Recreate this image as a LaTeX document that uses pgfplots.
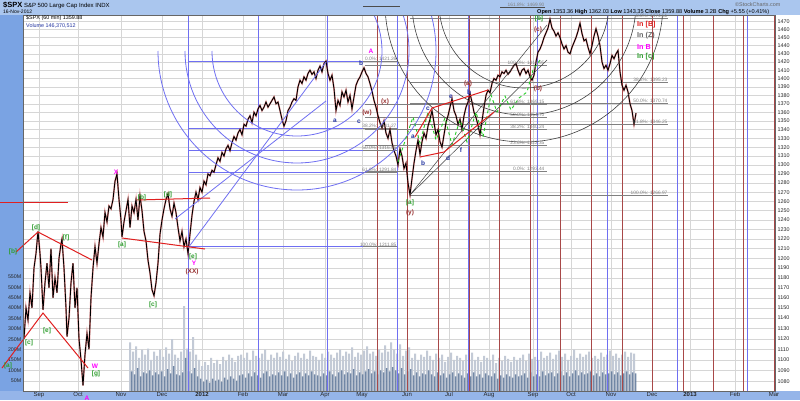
\documentclass[border=0pt]{standalone}
\usepackage{pgfplots}
\pgfplotsset{compat=1.18}
\usepackage{pgfplotstable}
\usepackage{fontspec}
\setmainfont{Liberation Sans}

\definecolor{lblue}{HTML}{6F6FF2}
\definecolor{rline}{HTML}{A84848}
\definecolor{eg}{HTML}{2E9E2E}
\definecolor{brn}{HTML}{993333}
\definecolor{nv}{HTML}{2233A0}
\definecolor{mg}{HTML}{FF00FF}
\definecolor{fibg}{HTML}{808080}
\definecolor{marg}{HTML}{7AA3E3}
\definecolor{head}{HTML}{AAC6EE}
\definecolor{vlight}{HTML}{C3CAD6}
\definecolor{vdark}{HTML}{5C7598}
\definecolor{chred}{HTML}{E02020}
\definecolor{zig}{HTML}{22CC22}

\newcommand\fs[1]{\fontsize{#1}{#1}\selectfont}
% elliott wave label: [size]{colour}{x}{y}{text}, x/y in chart pixels
\newcommand\lb[5][6.5]{\node[text=#2,font=\bfseries\fs{#1},inner sep=0pt] at (axis cs:#3,#4) {#5};}
% fib level label, right edge x, line y
\newcommand\fl[3]{\node[text=fibg,font=\fs{4.8},anchor=south east,inner sep=0.4pt] at (axis cs:#1,#2) {#3};}

\pgfplotsset{base/.style={at={(23pt,9pt)}, anchor=south west, scale only axis,
  width=752pt, height=376pt, xmin=23, xmax=775}}

% $SPX 60 min closes, x = chart pixel column
\pgfplotstableread[row sep=\\]{px p\\
24 1120\\26 1150\\28 1138\\30 1165\\32 1150\\34 1190\\36 1205\\38 1228\\40 1205\\41 1190\\
43 1148\\45 1175\\47 1195\\49 1170\\51 1210\\53 1160\\55 1180\\57 1165\\59 1200\\61 1215\\
62 1220\\64 1190\\66 1150\\67 1122\\69 1140\\71 1175\\73 1195\\75 1150\\77 1170\\79 1120\\
81 1100\\83 1076\\85 1105\\87 1125\\89 1110\\91 1160\\93 1190\\95 1212\\97 1195\\99 1215\\
101 1232\\103 1222\\105 1248\\107 1238\\109 1255\\111 1252\\113 1262\\115 1282\\117 1290\\119 1262\\
121 1240\\122 1222\\124 1238\\126 1250\\128 1262\\130 1232\\132 1255\\134 1248\\136 1262\\138 1240\\
140 1266\\142 1250\\144 1228\\146 1218\\148 1198\\150 1185\\152 1168\\154 1162\\156 1175\\158 1195\\
160 1225\\162 1240\\164 1252\\166 1262\\168 1268\\170 1252\\172 1244\\174 1258\\176 1248\\178 1232\\
180 1218\\182 1228\\184 1212\\186 1220\\188 1205\\190 1225\\192 1245\\194 1260\\196 1270\\198 1262\\
200 1275\\202 1270\\204 1282\\206 1278\\208 1290\\210 1288\\212 1294\\214 1292\\216 1300\\218 1308\\
220 1304\\222 1314\\224 1310\\226 1318\\228 1322\\230 1316\\232 1325\\234 1332\\236 1328\\238 1336\\
240 1340\\242 1334\\244 1346\\246 1344\\248 1352\\250 1356\\252 1348\\254 1360\\256 1356\\258 1364\\
260 1368\\262 1362\\264 1366\\266 1372\\268 1366\\270 1370\\272 1374\\274 1378\\276 1370\\278 1372\\
280 1362\\282 1352\\284 1344\\286 1350\\288 1362\\290 1366\\292 1372\\294 1376\\296 1374\\298 1390\\
300 1398\\302 1394\\304 1402\\306 1398\\308 1406\\310 1410\\312 1405\\314 1408\\316 1400\\318 1410\\
320 1415\\322 1408\\324 1418\\326 1421\\328 1406\\330 1398\\332 1404\\334 1388\\336 1362\\338 1374\\
340 1368\\342 1384\\344 1378\\346 1386\\348 1372\\350 1380\\352 1364\\354 1378\\356 1392\\358 1398\\
360 1402\\362 1408\\364 1413\\366 1406\\368 1402\\370 1394\\372 1385\\374 1374\\376 1366\\378 1356\\
380 1348\\382 1342\\384 1350\\386 1336\\388 1330\\390 1340\\392 1325\\394 1316\\396 1310\\398 1300\\
400 1318\\402 1310\\404 1296\\406 1302\\408 1280\\410 1267\\412 1285\\414 1302\\416 1316\\418 1328\\
420 1312\\422 1326\\424 1336\\426 1330\\428 1344\\430 1352\\432 1362\\434 1348\\436 1334\\438 1340\\
440 1326\\442 1320\\444 1334\\446 1348\\448 1356\\450 1366\\452 1376\\454 1362\\456 1356\\458 1346\\
460 1352\\462 1340\\464 1356\\466 1366\\468 1372\\470 1382\\472 1372\\474 1360\\476 1354\\478 1345\\
480 1334\\482 1350\\484 1366\\486 1380\\488 1386\\490 1383\\492 1394\\494 1400\\496 1398\\498 1404\\
500 1402\\502 1408\\504 1406\\506 1410\\508 1405\\510 1408\\512 1412\\514 1416\\516 1418\\518 1410\\
520 1404\\522 1410\\524 1412\\526 1406\\528 1410\\530 1402\\532 1398\\534 1404\\536 1420\\538 1432\\
540 1436\\542 1442\\544 1450\\546 1456\\548 1462\\550 1473\\552 1462\\554 1458\\556 1452\\558 1456\\
560 1450\\562 1442\\564 1436\\566 1440\\568 1432\\570 1430\\572 1438\\574 1444\\576 1450\\578 1458\\
580 1468\\582 1455\\584 1446\\586 1448\\588 1438\\590 1430\\592 1440\\594 1452\\596 1461\\598 1452\\
600 1440\\602 1420\\604 1412\\606 1416\\608 1410\\610 1418\\612 1428\\614 1424\\616 1430\\618 1434\\
620 1408\\622 1392\\624 1386\\626 1392\\628 1384\\630 1370\\632 1362\\634 1346\\636 1359\\
}\spx

% volume (millions), one pair per 3 px from x=130
\pgfplotstableread[row sep=\\]{vl vd\\
235 95\\190 80\\215 110\\160 70\\200 90\\175 85\\205 100\\150 75\\190 90\\170 80\\
200 95\\165 70\\210 105\\180 85\\250 120\\175 80\\160 75\\190 90\\410 160\\205 95\\
190 85\\260 110\\175 70\\150 60\\120 45\\140 55\\125 40\\160 60\\135 50\\150 55\\
130 45\\165 65\\145 55\\175 70\\160 60\\140 50\\170 75\\175 80\\160 65\\185 85\\
150 70\\195 90\\170 75\\160 65\\180 85\\200 95\\150 70\\175 80\\160 75\\185 90\\
165 75\\190 95\\155 70\\175 85\\145 65\\170 80\\185 90\\160 70\\180 85\\155 75\\
195 95\\170 80\\165 75\\150 70\\180 85\\160 75\\190 95\\175 80\\160 70\\185 90\\
200 100\\170 80\\190 90\\180 85\\210 105\\165 75\\185 90\\175 80\\195 95\\215 105\\
180 85\\190 95\\170 80\\200 100\\185 90\\220 110\\190 95\\235 115\\200 100\\180 85\\
225 110\\170 80\\195 95\\210 105\\160 75\\180 90\\150 70\\175 85\\165 80\\195 100\\
170 80\\150 70\\180 90\\160 75\\175 85\\140 65\\165 80\\185 90\\150 70\\170 85\\
160 75\\145 65\\175 85\\155 70\\185 90\\150 70\\165 80\\140 65\\170 85\\160 75\\
150 70\\175 85\\135 60\\160 75\\145 65\\170 80\\155 70\\140 65\\165 80\\150 70\\
160 75\\175 85\\145 65\\180 90\\155 70\\165 80\\150 70\\190 95\\160 75\\170 85\\
185 90\\155 70\\175 85\\195 95\\165 75\\180 90\\150 70\\170 85\\200 100\\160 75\\
180 90\\165 80\\175 85\\190 95\\160 75\\170 85\\155 70\\185 90\\165 80\\175 85\\
195 95\\170 80\\180 90\\160 75\\175 85\\190 95\\165 80\\185 90\\180 85\\
}\vol

\begin{document}
\begin{tikzpicture}[x=1pt,y=1pt]
\useasboundingbox (0,0) rectangle (800,400);
\fill[marg] (0,0) rectangle (23,385);
\fill[marg!80!white] (0,0) rectangle (800,9);
\fill[head] (0,385) rectangle (800,400);

% grid, month labels, price labels
\begin{axis}[base, ymode=log, ymin=1071, ymax=1478.5,
  axis background/.style={fill=white},
  xtick={39,78,121,162,202,243,283,325,362,407,449,489,533,571,611,652,690,735,774},
  xticklabels={Sep,Oct,Nov,Dec,\textbf{2012},Feb,Mar,Apr,May,Jun,Jul,Aug,Sep,Oct,Nov,Dec,\textbf{2013},Feb,Mar},
  minor x tick num=3, minor y tick num=0,
  ytick={1080,1090,...,1470}, yticklabel pos=right,
  log ticks with fixed point,
  /pgf/number format/fixed, /pgf/number format/precision=0,
  /pgf/number format/1000 sep={}, /pgf/number format/assume math mode=true,
  xmajorgrids, xminorgrids, ymajorgrids,
  major grid style={draw=gray!32, line width=0.4pt},
  minor grid style={draw=gray!16, line width=0.4pt},
  tick style={draw=none}, axis line style={draw=none},
  xticklabel style={font=\fs{6}, inner sep=0pt, yshift=-1.5pt, text=black!85},
  yticklabel style={font=\fs{5.4}, inner sep=0pt, anchor=west, xshift=2.5pt, text=black!85},
]
\end{axis}

% volume
\begin{axis}[base, ymin=0, ymax=1814, hide x axis, axis y line*=left,
  y axis line style={draw=none}, tick style={draw=none},
  ytick={50,100,...,550}, yticklabel={\pgfmathprintnumber{\tick}M},
  /pgf/number format/assume math mode=true,
  yticklabel style={font=\fs{5.3}, inner sep=0pt, anchor=east, xshift=-1.5pt, text=black!85},
]
\addplot[ybar, bar width=2pt, bar shift=0pt, fill=vlight, draw=none]
  table[x expr=\coordindex*3+130, y=vl]{\vol};
\addplot[ybar, bar width=1.5pt, bar shift=0pt, fill=vdark, draw=none, opacity=0.85]
  table[x expr=\coordindex*3+131.5, y=vd]{\vol};
\end{axis}

% price, cycle lines, fibonacci levels
\begin{axis}[base, ymode=log, ymin=1071, ymax=1478.5, hide axis]
\pgfplotsinvokeforeach{188,258,327,397,468,537,607,677,747}{
  \addplot[lblue, line width=0.8pt] coordinates {(#1,1071) (#1,1478.5)};}
\pgfplotsinvokeforeach{377,407,438,469,499,530,560,591,622,652,683,713,743,774}{
  \addplot[rline, line width=0.8pt] coordinates {(#1,1071) (#1,1478.5)};}
\pgfplotsinvokeforeach{1421.26,1341.27,1316.56,1291.84,1211.85}{
  \addplot[lblue, line width=0.8pt] coordinates {(188,#1) (397,#1)};
  \addplot[fibg, line width=0.6pt] coordinates {(363,#1) (397,#1)};}
\pgfplotsinvokeforeach{1415.95,1369.15,1354.70,1340.24,1322.35,1293.44}{
  \addplot[fibg, line width=0.6pt] coordinates {(365,#1) (547,#1)};}
\pgfplotsinvokeforeach{1474.51,1395.23,1370.74,1346.25,1266.97}{
  \addplot[fibg, line width=0.6pt] coordinates {(410,#1) (668,#1)};}
\addplot[chred, line width=1.7pt, opacity=0.45] table[x=px, y=p]{\spx};
\addplot[black, line width=0.9pt] table[x=px, y=p]{\spx};
\end{axis}

% drawn studies, chart pixel coordinates, clipped to the plot
\begin{axis}[base, ymin=15, ymax=391, y dir=reverse, hide axis]
\pgfplotsinvokeforeach{85,112,139}{
  \draw[lblue, line width=0.8pt] (axis cs:320,66) ++(-#1pt,0) arc[start angle=180, end angle=420, radius=#1pt];
  \draw[black!75, line width=0.6pt] (axis cs:547,18) ++(-#1pt,0) arc[start angle=180, end angle=360, radius=#1pt];}
\addplot[lblue, line width=0.8pt] coordinates {(188,248) (326,62)};
\addplot[lblue, line width=0.8pt] coordinates {(175,219) (326,101)};
\addplot[black!75, line width=0.5pt] coordinates {(410,195) (547,25)};
\addplot[black!75, line width=0.5pt] coordinates {(410,195) (547,60)};
\addplot[zig, line width=0.9pt, dashed] coordinates {(398,162) (413,117) (420,143) (428,112) (436,140) (445,118) (452,145) (460,120) (467,142) (476,112) (483,137) (491,95) (497,112) (505,96) (511,110) (519,98) (527,92) (533,70) (540,60)};
\addplot[chred, line width=1pt] coordinates {(415,137) (432,108) (488,90)};
\addplot[chred, line width=1pt] coordinates {(420,157) (444,152) (494,112)};
\addplot[chred, line width=1pt] coordinates {(137,200) (210,198)};
\addplot[chred, line width=1pt] coordinates {(122,238) (205,249)};
\end{axis}

% annotations that run into the margins
\begin{axis}[base, ymin=15, ymax=391, y dir=reverse, hide axis, clip=false]
\addplot[chred, line width=1pt] coordinates {(0,202) (68,202)};
\addplot[chred, line width=1pt] coordinates {(16,252) (38,232) (92,260)};
\addplot[chred, line width=1pt] coordinates {(2,368) (43,313) (88,368)};
\addplot[fibg!60!black, line width=0.6pt] coordinates {(500,7) (545,7)};
\addplot[black!70, line width=0.6pt] coordinates {(363,6) (400,6)};
\draw[black!60, line width=0.5pt] (axis cs:23,15) rectangle (axis cs:775,391);

\fl{397}{61}{0.0\%: 1421.26}
\fl{397}{128.6}{38.2\%: 1341.27}
\fl{397}{150.2}{50.0\%: 1316.56}
\fl{397}{172.3}{61.8\%: 1291.84}
\fl{397}{246.9}{100.0\%: 1211.85}
\fl{545}{65.4}{100.0\%: 1415.95}
\fl{545}{104.6}{61.8\%: 1369.15}
\fl{545}{117}{50.0\%: 1354.70}
\fl{545}{129.5}{38.2\%: 1340.24}
\fl{545}{145.1}{23.6\%: 1322.35}
\fl{545}{170.9}{0.0\%: 1293.44}
\fl{668}{18.1}{0.0\%: 1474.51}
\fl{668}{82.6}{38.2\%: 1395.23}
\fl{668}{103.2}{50.0\%: 1370.74}
\fl{668}{124.2}{61.8\%: 1346.25}
\fl{668}{195}{100.0\%: 1266.97}
\fl{545}{7}{161.8\%: 1469.90}

\lb{eg}{8}{366}{[a]}
\lb{eg}{13}{252}{[b]}
\lb{eg}{29}{343}{[c]}
\lb{eg}{36}{228}{[d]}
\lb{eg}{47}{331}{[e]}
\lb{eg}{66}{238}{[f]}
\lb{eg}{96}{374}{[g]}
\lb{eg}{122}{245}{[a]}
\lb{eg}{142}{198}{[b]}
\lb{eg}{153}{305}{[c]}
\lb{eg}{168}{195}{[d]}
\lb{eg}{193}{257}{[e]}
\lb{eg}{410}{203}{[a]}
\lb{eg}{539}{19}{[b]}
\lb{mg}{95}{366}{W}
\lb{mg}{116}{172}{X}
\lb{mg}{194}{263}{Y}
\lb{mg}{371}{51}{A}
\lb{mg}{87}{398}{A}
\lb{brn}{192}{272}{(XX)}
\lb{brn}{385}{102}{(x)}
\lb{brn}{367}{113}{(w)}
\lb{brn}{468}{84}{(a)}
\lb{brn}{538}{89}{(b)}
\lb{brn}{410}{213}{(y)}
\lb{brn}{538}{30}{(c)}
\lb{nv}{335}{121}{a}
\lb{nv}{361}{63}{b}
\lb{nv}{359}{122}{c}
\lb{nv}{413}{137}{a}
\lb{nv}{423}{163}{b}
\lb{nv}{428}{109}{c}
\lb{nv}{448}{158}{d}
\lb{nv}{451}{97}{e}
\lb{nv}{461}{150}{f}
\lb{nv}{469}{92}{b}

\node[text=chred,font=\bfseries\fs{7.2},anchor=west,inner sep=0pt] at (axis cs:637,25) {In [B]};
\node[text=black!60,font=\bfseries\fs{7.2},anchor=west,inner sep=0pt] at (axis cs:637,36) {In (Z)};
\node[text=mg,font=\bfseries\fs{7.2},anchor=west,inner sep=0pt] at (axis cs:637,47) {In B};
\node[text=eg,font=\bfseries\fs{7.2},anchor=west,inner sep=0pt] at (axis cs:637,57) {In [c]};

\node[font=\fs{5.4},anchor=west,inner sep=0pt] at (axis cs:26,18.5) {\$SPX (60 min) 1359.88};
\node[text=nv,font=\fs{5.4},anchor=west,inner sep=0pt] at (axis cs:26,25.5) {Volume 146,370,512};
\node[font=\fs{5.6},anchor=west,inner sep=0pt] at (axis cs:537,12) {\textbf{Open} 1353.36 \textbf{High} 1362.03 \textbf{Low} 1343.35 \textbf{Close} 1359.88 \textbf{Volume} 3.2B \textbf{Chg} +5.55 (+0.41\%)};
\node[text=black!60,font=\fs{5.4},anchor=west,inner sep=0pt] at (axis cs:735,4.5) {©StockCharts.com};
\node[font=\fs{6},anchor=west,inner sep=0pt] at (axis cs:3,5) {\textbf{\fs{7.5}\$SPX} S\&P 500 Large Cap Index INDX};
\node[font=\fs{5},anchor=west,inner sep=0pt] at (axis cs:3,11.5) {16-Nov-2012};
\end{axis}
\end{tikzpicture}
\end{document}
